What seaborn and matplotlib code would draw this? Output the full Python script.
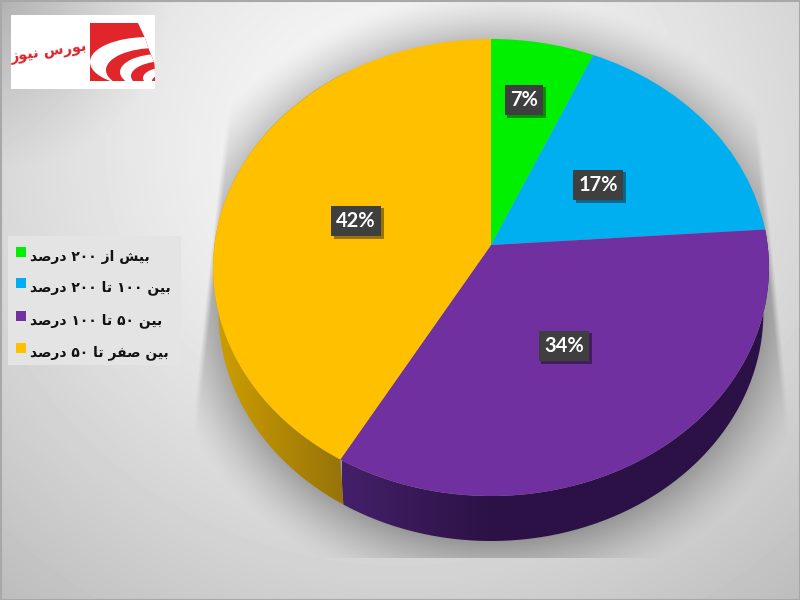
"""
plot.py
Tilted pie chart with side walls, legend panel and logo, on a grey backdrop.
"""

import matplotlib
matplotlib.use('Agg')
import matplotlib.pyplot as plt
import matplotlib.patheffects as pe
import numpy as np
import seaborn as sns
from matplotlib.colors import LinearSegmentedColormap
from matplotlib.patches import Ellipse, PathPatch, Polygon, Rectangle
from matplotlib.path import Path
from matplotlib.transforms import Transform

shares = [6.6, 17.3, 34.4, 41.7]
categories = ['بیش از ۲۰۰ درصد', 'بین ۱۰۰ تا ۲۰۰ درصد', 'بین ۵۰ تا ۱۰۰ درصد', 'بین صفر تا ۵۰ درصد']
slice_colors = ['#00f000', '#00aff0', '#7030a0', '#ffc000']
logo_words = 'بورس نیوز'

# layout, in pixels of the 800x600 picture
CX, CY = 491, 245
RX, RY, TILT = 276.6, 226.3, 0.0985
DEPTH = 45
WALL_SCALE = 0.98
label_xy = [(524, 100), (598, 185), (564, 346), (356, 221)]
legend_y = [252, 283, 316, 348]
text_y = [257, 288, 321, 353]

# matplotlib does no Arabic shaping, so joined forms are picked here
FORMS = {
    'ب': 'ﺏﺐﺑﺒ', 'ت': 'ﺕﺖﺗﺘ', 'ی': 'ﻱﻲﻳﻴ', 'ش': 'ﺵﺶﺷﺸ', 'ص': 'ﺹﺺﺻﺼ',
    'ن': 'ﻥﻦﻧﻨ', 'ف': 'ﻑﻒﻓﻔ', 'س': 'ﺱﺲﺳﺴ',
    'ا': 'ﺍﺎ', 'د': 'ﺩﺪ', 'ر': 'ﺭﺮ', 'ز': 'ﺯﺰ', 'و': 'ﻭﻮ',
}


def shape(text):
    runs = []
    for word in text.split(' '):
        if word[0] in '۰۱۲۳۴۵۶۷۸۹':
            runs.append(word)
            continue
        out = ''
        for i, ch in enumerate(word):
            prev_joins = i > 0 and len(FORMS[word[i - 1]]) == 4
            next_joins = i < len(word) - 1 and len(FORMS[ch]) == 4
            out += FORMS[ch][int(prev_joins) + 2 * int(next_joins) if next_joins else int(prev_joins)]
        runs.append(out[::-1])
    return ' '.join(runs[::-1])


def project(x, y):
    d = 1 + TILT * y
    return CX + RX * x / d, CY - RY * y / d


class TiltedDisk(Transform):
    input_dims = 2
    output_dims = 2
    is_affine = False

    def transform_non_affine(self, values):
        px, py = project(values[:, 0], values[:, 1])
        return np.column_stack([px, py])


sns.set_theme(style='white')
plt.rcParams['font.family'] = ['Lato', 'DejaVu Sans']

fig = plt.figure(figsize=(8, 6), dpi=100)
ax = fig.add_axes([0, 0, 1, 1])

# backdrop with the soft shadow under the pie
yy, xx = np.mgrid[0:600, 0:800]
backdrop = 250 - 62 * np.clip(np.hypot(xx - 400, (yy - 150) * 1.05) / 620, 0, 1.2) ** 1.4
backdrop -= 35 * np.clip(1 - np.hypot(xx, yy) / 170, 0, 1)
dist = (np.hypot((xx - 491) / 272, (yy - 296) / 245) - 1) * 245
shade = np.clip(1 - dist / 60, 0, 1) ** 1.4 * 0.3
side = np.minimum(767 + (yy - 200) * 0.10 - xx, xx - (213 - (yy - 230) * 0.11))
shade *= np.clip(side / 6, 0, 1)
shade[yy > 557] = 0
backdrop = backdrop * (1 - shade)
ax.imshow(backdrop, cmap='gray', vmin=0, vmax=255, extent=(0, 800, 600, 0), aspect='auto', zorder=0)

# side walls, shaded from left to right
edges = np.cumsum([0] + shares) / 100 * 2 * np.pi
walls = [(2, ['#45206a', '#2c1245', '#2b1145', '#2b1145'], 342, 775),
         (3, ['#cf9f00', '#95730a'], 213, 345)]
for idx, tones, x0, x1 in walls:
    t = np.linspace(edges[idx], edges[idx + 1], 200)
    tx, ty = project(np.sin(t), np.cos(t))
    lower_x = CX + (tx - CX) * WALL_SCALE
    outline = np.vstack([np.column_stack([tx, ty]),
                         np.column_stack([lower_x[::-1], ty[::-1] + DEPTH])])
    clip = PathPatch(Path(outline, closed=False), transform=ax.transData, fc='none', ec='none')
    ax.add_patch(clip)
    cmap = LinearSegmentedColormap.from_list('wall', tones)
    im = ax.imshow(np.linspace(0, 1, 256)[None, :], cmap=cmap, extent=(x0, x1, 600, 0),
                   aspect='auto', zorder=1)
    im.set_clip_path(clip)

# top of the pie, the wedges come from ax.pie and get tilted by the transform
palette = sns.color_palette(slice_colors)
wedges, _, pct_texts = ax.pie(shares, colors=palette, startangle=90, counterclock=False,
                              autopct='%.0f%%', wedgeprops={'linewidth': 0, 'zorder': 2})
tilt = TiltedDisk() + ax.transData
for w in wedges:
    w.set_transform(tilt)

for txt, (px, py) in zip(pct_texts, label_xy):
    txt.set_position((px, py))
    txt.set(color='white', fontsize=14.5, fontweight='bold', ha='center', va='center', zorder=5)
    txt.set_bbox({'boxstyle': 'square,pad=0.27', 'fc': '#3f3f3f', 'ec': 'none'})
    txt.get_bbox_patch().set_path_effects(
        [pe.withSimplePatchShadow(offset=(2, -2), shadow_rgbFace='black', alpha=0.4)])

# legend panel
ax.add_patch(Rectangle((8, 236), 173, 129, fc='#e4e4e4', ec='none', zorder=1))
sns.scatterplot(x=[21] * 4, y=legend_y, hue=categories, palette=slice_colors, marker='s',
                s=60, linewidth=0, legend=False, ax=ax, zorder=3)
for label, ty in zip(categories, text_y):
    ax.text(30, ty, shape(label), fontsize=10, fontweight='bold', color='#111111',
            family='DejaVu Sans', ha='left', va='center', zorder=3)

# logo
ax.add_patch(Rectangle((11, 15), 144, 74, fc='white', ec='none', zorder=2))
logo_red = '#e0252b'
mark = Polygon([(90, 23), (138, 23), (145, 38), (149, 50), (154, 62), (155, 72), (155, 81), (90, 81)],
               fc=logo_red, ec='none', zorder=3)
ax.add_patch(mark)
bands = [((148, 62), 116, 50, 'white'), ((156, 70), 100, 44, logo_red),
         ((160, 72), 80, 36, 'white'), ((166, 76), 70, 30, logo_red),
         ((168, 78), 50, 22, 'white'), ((172, 81), 40, 16, logo_red)]
for i, (center, w_, h_, col) in enumerate(bands):
    band = Ellipse(center, w_, h_, fc=col, ec='none', zorder=4 + i * 0.01)
    ax.add_patch(band)
    band.set_clip_path(mark)
ax.text(49, 52, shape(logo_words), fontsize=10.5, fontweight='bold', color='#d9252b',
        family='DejaVu Sans', ha='center', va='center', rotation=8, zorder=4)

# thin frame of the picture
ax.add_patch(Rectangle((0.5, 0.5), 799, 599, fc='none', ec='#a8a8a8', lw=1.5, zorder=6))

ax.set_xlim(0, 800)
ax.set_ylim(600, 0)
ax.set_aspect('auto')
ax.set_axis_off()

fig.savefig('out.png', dpi=100)
plt.close(fig)
